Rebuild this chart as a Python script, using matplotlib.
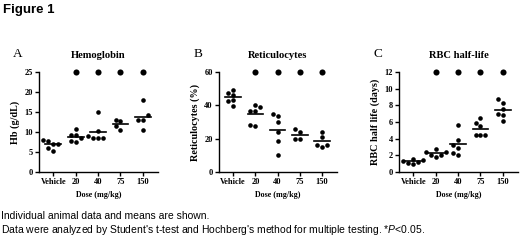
import numpy as np
import matplotlib.pyplot as plt

# dati
doses = ["Vehicle", "20", "40", "75", "150"]

hb = [
    [7.8, 7.1, 8.0, 5.3, 6.1, 7.1],
    [7.6, 9.2, 10.7, 8.4, 9.2, 7.7],
    [15.1, 10.2, 8.4, 8.4, 8.4, 8.9],
    [12.7, 13.0, 11.4, 10.5],
    [18.1, 14.2, 13.0, 13.0, 10.5],
]
retic = [
    [47.5, 49.5, 46.5, 43.5, 39.8, 42.5],
    [38.9, 40.4, 36.7, 36.7, 27.7, 28.5],
    [33.8, 34.8, 30.1, 24.0, 18.4, 10.2],
    [26.0, 24.0, 20.0, 20.0],
    [24.0, 21.0, 16.5, 16.5, 15.0],
]
halflife = [
    [1.5, 1.0, 1.3, 1.6, 1.1, 1.2],
    [2.37, 2.37, 1.8, 2.08, 2.08, 2.8],
    [5.7, 3.8, 2.9, 3.3, 2.0, 2.3],
    [6.5, 5.9, 5.5, 4.4, 4.5, 4.5],
    [8.8, 8.3, 7.6, 7.0, 6.8, 6.1],
]
significant = [False, True, True, True, True]

panels = [
    ("A", "Hemoglobin", "Hb (g/dL)", hb, 25, [0, 5, 10, 15, 20, 25]),
    ("B", "Reticulocytes", "Reticulocytes (%)", retic, 60, [0, 20, 40, 60]),
    ("C", "RBC half-life", "RBC half life (days)", halflife, 12, [0, 2, 4, 6, 8, 10, 12]),
]

#--------------------------------------------------------------------------------------------------------

def swarmOffsets(values, ymax, step=0.22):
    # disposizione orizzontale semplice tipo "beeswarm"
    order = np.argsort(values)
    placed = []
    offsets = np.zeros(len(values))
    candidates = [0, -step, step, -2 * step, 2 * step]
    for i in order:
        for c in candidates:
            ok = True
            for (px, py) in placed:
                if abs(px - c) < step * 0.9 and abs(py - values[i]) < ymax * 0.05:
                    ok = False
                    break
            if ok:
                offsets[i] = c
                placed.append((c, values[i]))
                break
    return offsets

#--------------------------------------------------------------------------------------------------------

plt.rcParams['mathtext.fontset'] = 'custom'
plt.rcParams['mathtext.it'] = 'Liberation Sans:italic'
plt.rcParams['mathtext.rm'] = 'Liberation Sans'

serif = "Liberation Serif"
fig = plt.figure(figsize=(5.2, 2.41), dpi=100)

axLefts = [39, 219, 399]
axRights = [158, 337, 518]
W, H = 520, 241

for k, (letter, title, ylab, data, ymax, yticks) in enumerate(panels):
    l = axLefts[k] / W
    w = (axRights[k] - axLefts[k]) / W
    ax = fig.add_axes([l, 1 - 172 / H, w, 100 / H])
    for i, vals in enumerate(data):
        off = swarmOffsets(vals, ymax)
        ax.plot(i + off, vals, "o", color="black", ms=3.3, mew=0)
        m = np.mean(vals)
        ax.plot([i - 0.35, i + 0.35], [m, m], color="black", lw=1.2)
        if significant[i]:
            ax.plot(i, ymax, "o", color="black", ms=4.4, mew=0, clip_on=False)
    ax.set_xlim(-0.64, 4.68)
    ax.set_ylim(0, ymax)
    ax.set_yticks(yticks)
    ax.set_xticks(range(len(doses)))
    ax.set_xticklabels(doses)
    for s in ["top", "right"]:
        ax.spines[s].set_visible(False)
    for s in ["left", "bottom"]:
        ax.spines[s].set_linewidth(1.0)
    ax.tick_params(direction="out", length=3, width=1, pad=1.5)
    for t in ax.get_xticklabels() + ax.get_yticklabels():
        t.set_fontfamily(serif)
        t.set_fontweight("bold")
        t.set_fontsize(6)
    ax.set_xlabel("Dose (mg/kg)", fontfamily=serif, fontweight="bold", fontsize=5.8, labelpad=3.5)
    ax.set_ylabel(ylab, fontfamily=serif, fontweight="bold", fontsize=7.3, labelpad=3)
    ax.set_title(title, fontfamily=serif, fontweight="bold", fontsize=7.6, pad=10)
    fig.text((axLefts[k] - 21) / W, 1 - 54 / H, letter, fontfamily=serif, fontsize=9.5, va="center", ha="center")

fig.text(3 / W, 1 - 10 / H, "Figure 1", fontfamily="Liberation Sans", fontweight="bold", fontsize=9.5, va="center")
fig.text(1 / W, 1 - 216 / H, "Individual animal data and means are shown.",
         fontfamily="Liberation Sans", fontsize=7.5, va="center")
fig.text(1 / W, 1 - 230 / H,
         "Data were analyzed by Student's t-test and Hochberg's method for multiple testing. *$P$<0.05.",
         fontfamily="Liberation Sans", fontsize=7.5, va="center")

plt.savefig("out.png", dpi=100)
